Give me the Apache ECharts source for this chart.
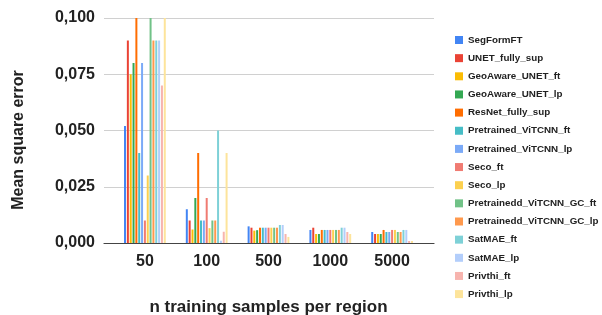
<!DOCTYPE html>
<html>
<head>
<meta charset="utf-8">
<script src="https://cdn.jsdelivr.net/npm/echarts@6/dist/echarts.min.js"></script>
<style>html,body{margin:0;padding:0;background:#fff;}#c{width:602px;height:315px;}</style>
</head>
<body>
<div id="c"></div>
<script>
const categories = ['50', '100', '500', '1000', '5000'];
const seriesNames = ['SegFormFT', 'UNET_fully_sup', 'GeoAware_UNET_ft', 'GeoAware_UNET_lp', 'ResNet_fully_sup',
  'Pretrained_ViTCNN_ft', 'Pretrained_ViTCNN_lp', 'Seco_ft', 'Seco_lp', 'Pretrainedd_ViTCNN_GC_ft',
  'Pretrainedd_ViTCNN_GC_lp', 'SatMAE_ft', 'SatMAE_lp', 'Privthi_ft', 'Privthi_lp'];
const colors = ['#4285F4', '#EA4335', '#FBBC04', '#34A853', '#FF6D01', '#46BDC6', '#7BAAF7', '#F07B72',
  '#FCD04F', '#71C287', '#FF994D', '#7ED1D7', '#B3CEFB', '#F7B4AE', '#FDE49B'];
// values per training-size group, in series order
const n50   = [0.052, 0.090, 0.075, 0.080, 0.100, 0.040, 0.080, 0.010, 0.030, 0.100, 0.090, 0.090, 0.090, 0.070, 0.100];
const n100  = [0.015, 0.010, 0.006, 0.020, 0.040, 0.010, 0.010, 0.020, 0.0066, 0.010, 0.010, 0.050, 0.001, 0.005, 0.040];
const n500  = [0.0074, 0.0068, 0.0055, 0.0057, 0.0068, 0.0068, 0.0068, 0.0068, 0.0068, 0.0068, 0.0068, 0.008, 0.008, 0.004, 0.0027];
const n1000 = [0.0058, 0.0068, 0.004, 0.004, 0.0058, 0.0058, 0.0058, 0.0058, 0.0058, 0.0058, 0.0058, 0.0068, 0.0068, 0.0049, 0.004];
const n5000 = [0.0049, 0.004, 0.004, 0.004, 0.0058, 0.0049, 0.0049, 0.0058, 0.0058, 0.0049, 0.0049, 0.0058, 0.0058, 0.0009, 0.0009];
const yTicks = { min: 0, max: 0.1, interval: 0.025 };

const groups = [n50, n100, n500, n1000, n5000];
const FONT = '"Liberation Sans", Arial, sans-serif';

const series = seriesNames.map((name, i) => ({
  name: name,
  type: 'bar',
  xAxisIndex: 1,
  yAxisIndex: 1,
  barWidth: 2,
  barGap: '42%',
  itemStyle: { color: colors[i] },
  emphasis: { disabled: true },
  data: groups.map(g => g[i])
}));

const chart = echarts.init(document.getElementById('c'), null, { renderer: 'canvas' });
chart.setOption({
  animation: false,
  textStyle: { fontFamily: FONT },
  grid: [
    { left: 104, right: 168, top: 18, bottom: 72, containLabel: false, outerBoundsMode: 'none' },
    { left: 114, right: 179, top: 18, bottom: 72, containLabel: false, outerBoundsMode: 'none' }
  ],
  xAxis: [
    { gridIndex: 0, type: 'category', data: categories,
      axisLine: { show: true, lineStyle: { color: '#444', width: 1.2 } },
      axisTick: { show: false }, axisLabel: { show: false }, splitLine: { show: false } },
    { gridIndex: 1, type: 'category', data: categories,
      axisLine: { show: false }, axisTick: { show: false },
      axisLabel: { fontSize: 16, fontWeight: 'bold', color: '#222', margin: 11, fontFamily: FONT },
      name: 'n training samples per region', nameLocation: 'middle', nameGap: 56,
      nameTextStyle: { fontSize: 17, fontWeight: 'bold', color: '#222', fontFamily: FONT } }
  ],
  yAxis: [
    { gridIndex: 0, type: 'value', min: yTicks.min, max: yTicks.max, interval: yTicks.interval,
      axisLine: { show: false }, axisTick: { show: false },
      splitLine: { lineStyle: { color: '#d0d0d0', width: 1 } },
      axisLabel: { fontSize: 16, fontWeight: 'bold', color: '#222', margin: 9, fontFamily: FONT,
        formatter: v => v.toFixed(3).replace('.', ',') } },
    { gridIndex: 1, type: 'value', min: yTicks.min, max: yTicks.max, interval: yTicks.interval,
      show: false, splitLine: { show: false } }
  ],
  legend: {
    orient: 'vertical', left: 455, top: 35, padding: 0,
    itemWidth: 8, itemHeight: 8, itemGap: 8.15,
    icon: 'rect',
    selectedMode: false,
    data: seriesNames,
    textStyle: { fontSize: 9.8, fontWeight: 'bold', color: '#222', lineHeight: 10, fontFamily: FONT }
  },
  graphic: [
    { type: 'text', x: 19, y: 140, rotation: Math.PI / 2,
      style: { text: 'Mean square error', font: 'bold 16px ' + FONT, fill: '#222',
        align: 'center', verticalAlign: 'middle' } }
  ],
  series: series
});
</script>
</body>
</html>
